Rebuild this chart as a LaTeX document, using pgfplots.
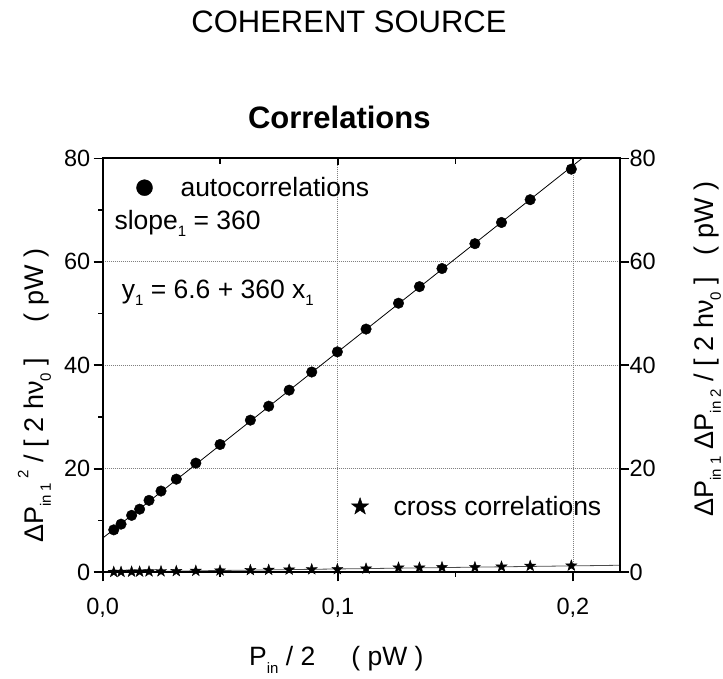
\documentclass[border=0pt]{standalone}
\usepackage{fontspec}
\setmainfont{Liberation Sans}
\usepackage{pgfplots}
\pgfplotsset{compat=1.18}
\newcommand{\fs}[1]{\fontsize{#1}{#1}\selectfont}
\newcommand{\sub}[1]{\raisebox{-0.28em}{\fs{15}#1}}
\newcommand{\sups}[1]{\raisebox{0.55em}{\fs{15}#1}}
\pgfdeclareplotmark{fstar}{%
  \pgfpathmoveto{\pgfqpointpolar{90}{\pgfplotmarksize}}%
  \pgfpathlineto{\pgfqpointpolar{126}{0.4\pgfplotmarksize}}%
  \pgfpathlineto{\pgfqpointpolar{162}{\pgfplotmarksize}}%
  \pgfpathlineto{\pgfqpointpolar{198}{0.4\pgfplotmarksize}}%
  \pgfpathlineto{\pgfqpointpolar{234}{\pgfplotmarksize}}%
  \pgfpathlineto{\pgfqpointpolar{270}{0.4\pgfplotmarksize}}%
  \pgfpathlineto{\pgfqpointpolar{306}{\pgfplotmarksize}}%
  \pgfpathlineto{\pgfqpointpolar{342}{0.4\pgfplotmarksize}}%
  \pgfpathlineto{\pgfqpointpolar{18}{\pgfplotmarksize}}%
  \pgfpathlineto{\pgfqpointpolar{54}{0.4\pgfplotmarksize}}%
  \pgfpathclose
  \pgfusepathqfillstroke}
\pgfplotstableread{
x y
0.0047 8.2
0.0078 9.3
0.0123 11.0
0.0157 12.2
0.0197 13.9
0.0248 15.7
0.0313 18.0
0.0396 21.1
0.0499 24.7
0.0628 29.4
0.0706 32.1
0.0793 35.2
0.0889 38.7
0.0998 42.6
0.1120 47.0
0.1258 52.0
0.1347 55.2
0.1443 58.7
0.1583 63.5
0.1696 67.6
0.1818 72.0
0.1993 77.9
}\auto
\pgfplotstableread{
x y
0.0047 0.05
0.0078 0.07
0.0123 0.10
0.0157 0.12
0.0197 0.15
0.0248 0.18
0.0313 0.22
0.0396 0.27
0.0499 0.33
0.0628 0.42
0.0706 0.46
0.0793 0.50
0.0889 0.56
0.0998 0.58
0.1120 0.70
0.1258 0.89
0.1347 0.89
0.1443 0.97
0.1583 0.97
0.1696 1.08
0.1818 1.22
0.1993 1.28
}\cross
\begin{document}
\begin{tikzpicture}
\path[use as bounding box] (0pt,0pt) rectangle (723pt,679pt);
\pgfplotsset{
  common/.style={
    at={(102.7pt,106.7pt)}, anchor=south west, scale only axis,
    width=517.3pt, height=414pt,
    xmin=0, xmax=0.22, ymin=0, ymax=80,
    axis line style={line width=1.8pt},
    tick style={line width=1.6pt, black},
    major tick length=9pt, minor tick length=4.5pt,
    tick label style={font=\fs{23.5}},
    /pgf/number format/assume math mode=true,
  }
}
% main axis: data, left and bottom ticks
\begin{axis}[common,
  xtick={0,0.1,0.2}, xticklabels={{0,0},{0,1},{0,2}}, minor xtick={0.05,0.15},
  xticklabel style={yshift=-13pt},
  ytick={0,20,40,60,80}, minor ytick={10,30,50,70},
  xtick pos=bottom, ytick pos=left, tick align=outside,
  grid=major, grid style={gray, line width=0.8pt, dash pattern=on 1pt off 1pt},
  legend style={draw=none, fill=none, at={(0.065,0.929)}, anchor=west,
    font=\fs{26.5}, inner sep=0pt, nodes={inner sep=0pt}},
  legend cell align=left,
  legend image code/.code={\draw[#1, mark size=8pt] plot coordinates {(0pt,0pt)};},
  clip=true,
]
\addplot[black, line width=0.8pt, forget plot] coordinates {(0,6.6) (0.22,85.8)};
\addplot[black!70, line width=0.8pt, forget plot] coordinates {(0,0.05) (0.22,1.36)};
\addplot[only marks, mark=*, mark size=5.3pt, black] table[x=x,y=y] {\auto};
\addlegendentry{\hspace{28pt}autocorrelations}
\addplot[only marks, mark=fstar, mark size=5.8pt, black, mark options={fill=black, line width=0.4pt}, forget plot] table[x=x,y=y] {\cross};
\end{axis}
% top ticks inward, right minor inward, second legend
\begin{axis}[common,
  xtick={0,0.1,0.2}, minor xtick={0.05,0.15}, xticklabels=\empty,
  ytick=\empty, minor ytick={10,30,50,70}, yticklabels=\empty,
  xtick pos=top, ytick pos=right, tick align=inside,
  major tick length=6.5pt, minor tick length=5.5pt,
  legend style={draw=none, fill=none, at={(0.4806,0.1585)}, anchor=west,
    font=\fs{26.5}, inner sep=0pt, nodes={inner sep=0pt}},
  legend cell align=left,
  legend image code/.code={\draw[#1, mark size=9pt] plot coordinates {(0pt,0pt)};},
]
\addlegendimage{only marks, mark=fstar, black, mark options={fill=black, line width=0.4pt}}
\addlegendentry{\hspace{25pt}cross correlations}
\end{axis}
% right major ticks with labels
\begin{axis}[common,
  xtick=\empty,
  ytick={0,20,40,60,80}, ytick pos=right, yticklabel pos=right, tick align=outside,
  yticklabel style={xshift=-3pt},
]
\end{axis}
% texts
\node[anchor=base, font=\fs{31}] at (349pt,646.7pt) {COHERENT SOURCE};
\node[anchor=base, font=\bfseries\fs{31}] at (339.3pt,550.7pt) {Correlations};
\node[anchor=base west, font=\fs{26.5}] at (111pt,449.7pt) {slope\sub{1} = 360};
\node[anchor=base west, font=\fs{26.5}] at (118.3pt,380.7pt) {y\sub{1} = 6.6 + 360 x\sub{1}};
\node[anchor=base west, font=\fs{26.5}] at (245.7pt,13pt) {P\sub{in} / 2\hspace{36pt}( pW )};
\node[anchor=base east, rotate=90, font=\fs{27}] at (43.3pt,434pt) {ΔP\sub{in 1}\,\sups{2} / [ 2 hν\sub{0} ]\hspace{36pt}( pW )};
\node[anchor=base east, rotate=90, font=\fs{27}] at (713.3pt,501pt) {ΔP\sub{in 1} ΔP\sub{in 2} / [ 2 hν\sub{0} ]\hspace{22pt}( pW )};
\end{tikzpicture}
\end{document}
